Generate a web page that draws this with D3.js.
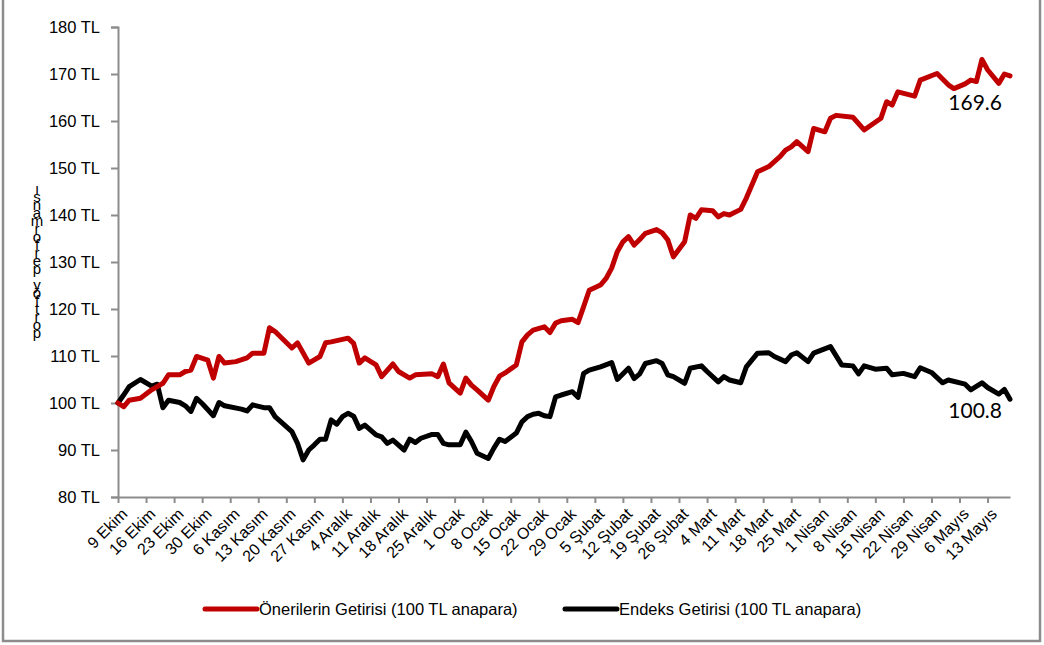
<!DOCTYPE html>
<html>
<head>
<meta charset="utf-8">
<script src="https://cdn.jsdelivr.net/npm/d3@7"></script>
<style>
  body { margin: 0; background: #fff; }
  svg { display: block; }
</style>
</head>
<body>
<svg id="canvas"></svg>
<script>
// weekly tick labels (every 5th trading day)
let weekLabels = ["9 Ekim", "16 Ekim", "23 Ekim", "30 Ekim", "6 Kasım", "13 Kasım", "20 Kasım", "27 Kasım",
  "4 Aralık", "11 Aralık", "18 Aralık", "25 Aralık", "1 Ocak", "8 Ocak", "15 Ocak", "22 Ocak", "29 Ocak",
  "5 Şubat", "12 Şubat", "19 Şubat", "26 Şubat", "4 Mart", "11 Mart", "18 Mart", "25 Mart",
  "1 Nisan", "8 Nisan", "15 Nisan", "22 Nisan", "29 Nisan", "6 Mayıs", "13 Mayıs"]
let dayCount = 160

let seriesNames = ["Önerilerin Getirisi (100 TL anapara)", "Endeks Getirisi (100 TL anapara)"]
let yTicks = [80, 90, 100, 110, 120, 130, 140, 150, 160, 170, 180]
let yTitle = "portföy performansı"

// trading day index / portfolio value
let redDays = [0, 1, 2, 4, 5, 6, 8, 9, 11, 12, 13, 14, 16, 17, 18, 19, 21, 23, 24, 26, 27, 28, 31, 32, 34, 36, 37, 38,
  41, 42, 43, 44, 46, 47, 49, 50, 52, 53, 56, 57, 58, 59, 61, 62, 63, 64, 66, 67, 68, 69, 71, 72, 73, 74, 76, 77, 78,
  79, 81, 82, 83, 84, 86, 87, 88, 89, 90, 91, 92, 93, 94, 96, 97, 98, 99, 101, 102, 103, 104, 106, 107, 108, 109,
  111, 112, 114, 116, 118, 119, 120, 121, 123, 124, 126, 127, 128, 131, 133, 136, 137, 138, 139, 142, 143, 146,
  148, 149, 151, 152, 153, 154, 155, 157, 158, 159]
let redValues = [100, 99.2, 100.6, 101, 101.9, 102.8, 104.2, 106, 106, 106.7, 107, 109.9, 109.1, 105.3, 109.9, 108.5,
  108.8, 109.6, 110.6, 110.6, 116, 115.2, 111.7, 112.8, 108.5, 109.9, 112.8, 113, 113.8, 112.7, 108.5, 109.6, 108.1,
  105.6, 108.3, 106.7, 105.3, 106, 106.2, 105.6, 108.3, 104.3, 102.1, 105.3, 103.8, 102.8, 100.6, 103.5, 105.7,
  106.4, 108.1, 113, 114.5, 115.5, 116.2, 115, 117, 117.5, 117.8, 117.1, 120.5, 124, 125.1, 126.5, 128.7, 132.2,
  134.3, 135.4, 133.6, 134.8, 136.1, 136.9, 136.2, 134.7, 131.1, 134.3, 140, 139.3, 141.1, 140.9, 139.6, 140.3, 140,
  141.2, 143.6, 149.2, 150.3, 152.4, 153.8, 154.5, 155.6, 153.5, 158.4, 157.7, 160.6, 161.2, 160.8, 158.1, 160.6,
  164.1, 163.4, 166.2, 165.3, 168.7, 170.1, 167.7, 166.9, 167.9, 168.7, 168.4, 173.1, 170.9, 168, 170, 169.6]

let blackDays = [0, 1, 2, 4, 6, 7, 8, 9, 11, 12, 13, 14, 15, 17, 18, 19, 22, 23, 24, 26, 27, 28, 31, 32, 33, 34, 35, 36,
  37, 38, 39, 40, 41, 42, 43, 44, 46, 47, 48, 49, 51, 52, 53, 54, 56, 57, 58, 59, 61, 62, 63, 64, 66, 67, 68, 69, 71,
  72, 73, 74, 75, 76, 77, 78, 79, 81, 82, 83, 84, 86, 88, 89, 91, 92, 93, 94, 96, 97, 98, 99, 101, 102, 104, 105, 107,
  108, 109, 111, 112, 114, 116, 117, 119, 120, 121, 123, 124, 127, 129, 131, 132, 133, 135, 137, 138, 140, 142, 143,
  145, 147, 148, 151, 152, 154, 155, 157, 158, 159]
let blackValues = [100, 101.7, 103.5, 105, 103.6, 104, 99, 100.6, 100.1, 99.4, 98.2, 101, 99.9, 97.3, 100.1, 99.4,
  98.7, 98.3, 99.6, 99, 99, 97.1, 93.9, 91.4, 87.9, 90, 91.1, 92.3, 92.3, 96.4, 95.5, 97.1, 97.8, 97.2, 94.6, 95.3,
  93.2, 92.8, 91.4, 92.1, 90, 92.3, 91.6, 92.5, 93.3, 93.3, 91.4, 91.1, 91.1, 93.8, 91.8, 89.3, 88.2, 90.4, 92.3,
  91.8, 93.6, 96, 97.1, 97.6, 97.8, 97.3, 97.1, 101.3, 101.7, 102.4, 101.2, 106.3, 107, 107.7, 108.6, 105, 107.4,
  105.2, 106.2, 108.4, 109, 108.4, 106, 105.6, 104.2, 107.4, 107.9, 106.7, 104.5, 105.6, 104.9, 104.3, 107.7, 110.6,
  110.7, 109.9, 108.8, 110.2, 110.7, 108.8, 110.6, 112, 108.1, 107.9, 106.2, 107.9, 107.2, 107.4, 106, 106.3, 105.6,
  107.5, 106.5, 104.3, 104.9, 104, 102.8, 104.3, 103.3, 101.9, 102.9, 100.8]

let width = 1044
let height = 645

let canvas = d3.select("#canvas")
canvas.attr("width", width)
      .attr("height", height)

let font = "'Liberation Sans', Arial, sans-serif"

// outer frame
canvas.append("rect")
      .attr("x", 3).attr("y", -4)
      .attr("width", 1037).attr("height", 645)
      .attr("fill", "none")
      .attr("stroke", "#8c8c8c")
      .attr("stroke-width", 2.5)

let xScale = d3.scaleLinear()
               .domain([0, dayCount - 1])
               .range([118, 1010])

let yScale = d3.scaleLinear()
               .domain([80, 180])
               .range([497, 27])

// y axis
let yAxis = d3.axisLeft(yScale)
              .tickValues(yTicks)
              .tickSize(7)
              .tickPadding(11)
              .tickFormat(d => d + " TL")
let yG = canvas.append("g")
               .attr("transform", "translate(118, 0)")
               .call(yAxis)
yG.select(".domain").attr("stroke", "#8c8c8c").attr("stroke-width", 2)
yG.selectAll(".tick line").attr("stroke", "#8c8c8c").attr("stroke-width", 2)
yG.selectAll("text")
  .attr("font-family", font)
  .attr("font-size", 16.5)
  .attr("fill", "#000")

// x axis
let xAxis = d3.axisBottom(xScale)
              .tickValues(d3.range(0, dayCount, 5))
              .tickSize(6)
              .tickSizeOuter(0)
              .tickFormat(i => weekLabels[i / 5])
let xG = canvas.append("g")
               .attr("transform", "translate(0, 497)")
               .call(xAxis)
xG.select(".domain").attr("stroke", "#8c8c8c").attr("stroke-width", 2)
xG.selectAll(".tick line").attr("stroke", "#8c8c8c").attr("stroke-width", 2)
xG.selectAll("text")
  .attr("font-family", font)
  .attr("font-size", 16)
  .attr("fill", "#000")
  .attr("text-anchor", "end")
  .attr("y", 0)
  .attr("dy", "0.35em")
  .attr("transform", "translate(6, 14) rotate(-45)")

// stacked vertical title, letters upright, written bottom to top (one text element)
let titleText = canvas.append("text")
                      .attr("text-anchor", "middle")
                      .attr("font-family", font)
                      .attr("font-size", 15)
titleText.selectAll("tspan")
         .data(yTitle.split(""))
         .enter().append("tspan")
         .attr("x", 37)
         .attr("y", (c, i) => 338 - i * 8)
         .text(c => c)

// lines
let lineGen = d3.line()
                .x(d => xScale(d[0]))
                .y(d => yScale(d[1]))

let redPoints = redDays.map((d, i) => [d, redValues[i]])
let blackPoints = blackDays.map((d, i) => [d, blackValues[i]])

canvas.append("path")
      .datum(blackPoints)
      .attr("d", lineGen)
      .attr("fill", "none")
      .attr("stroke", "#000")
      .attr("stroke-width", 5)
      .attr("stroke-linejoin", "round")
      .attr("stroke-linecap", "round")

canvas.append("path")
      .datum(redPoints)
      .attr("d", lineGen)
      .attr("fill", "none")
      .attr("stroke", "#c00000")
      .attr("stroke-width", 5)
      .attr("stroke-linejoin", "round")
      .attr("stroke-linecap", "round")

// end labels
let lastRed = redPoints[redPoints.length - 1]
let lastBlack = blackPoints[blackPoints.length - 1]
canvas.append("text")
      .attr("x", 1002)
      .attr("y", yScale(lastRed[1]) + 34)
      .attr("text-anchor", "end")
      .attr("font-family", "Lato, 'Open Sans', sans-serif")
      .attr("font-size", 21)
      .text(lastRed[1].toFixed(1))
canvas.append("text")
      .attr("x", 1002)
      .attr("y", yScale(lastBlack[1]) + 19)
      .attr("text-anchor", "end")
      .attr("font-family", "Lato, 'Open Sans', sans-serif")
      .attr("font-size", 21)
      .text(lastBlack[1].toFixed(1))

// legend
let legendColors = ["#c00000", "#000"]
let legendX = [203, 563]
let legend = canvas.selectAll(".legend")
                   .data(seriesNames)
                   .enter().append("g")
                   .attr("class", "legend")
                   .attr("transform", (d, i) => "translate(" + legendX[i] + ", 609)")
legend.append("line")
      .attr("x1", 2).attr("x2", 54)
      .attr("stroke", (d, i) => legendColors[i])
      .attr("stroke-width", 5)
      .attr("stroke-linecap", "round")
legend.append("text")
      .attr("x", 56)
      .attr("dy", "0.35em")
      .attr("font-family", font)
      .attr("font-size", 16.5)
      .text(d => d)
</script>
</body>
</html>
